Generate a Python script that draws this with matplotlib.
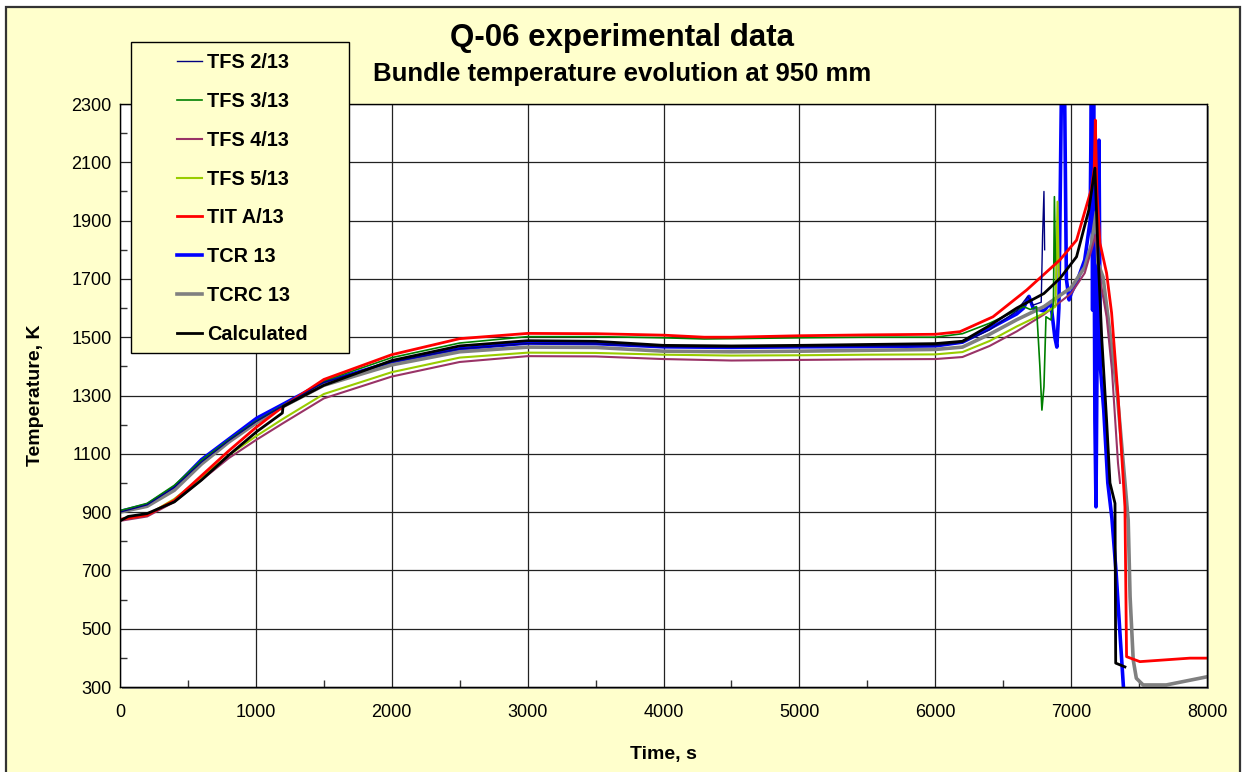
import matplotlib
matplotlib.use("Agg")
import matplotlib.pyplot as plt
from matplotlib.patches import Rectangle
from matplotlib.ticker import MultipleLocator

plt.rcParams['font.family'] = ['Liberation Sans', 'DejaVu Sans']

# TFS 2/13
t_tfs2 = [0, 200, 400, 600, 800, 1000, 1200, 1500, 2000, 2500, 3000, 3500, 4000, 4500,
          5000, 5500, 6000, 6200, 6400, 6600, 6680, 6720, 6780, 6790, 6800, 6805]
T_tfs2 = [900, 925, 985, 1072, 1145, 1210, 1265, 1345, 1415, 1460, 1478, 1477, 1467, 1465,
          1467, 1469, 1471, 1482, 1525, 1590, 1640, 1610, 1620, 1850, 2000, 1800]

# TFS 3/13
t_tfs3 = [0, 200, 400, 600, 800, 1000, 1200, 1500, 2000, 2500, 3000, 3500, 4000, 4300, 4500,
          5000, 5500, 6000, 6200, 6400, 6600, 6650, 6700, 6745, 6770, 6785, 6800, 6815,
          6852, 6870, 6877, 6885]
T_tfs3 = [905, 930, 992, 1078, 1148, 1212, 1266, 1350, 1430, 1480, 1502, 1502, 1498, 1494, 1495,
          1498, 1500, 1500, 1512, 1548, 1592, 1605, 1595, 1605, 1400, 1250, 1330, 1570,
          1559, 1620, 1982, 1750]

# TFS 4/13
t_tfs4 = [0, 200, 400, 600, 800, 1000, 1200, 1500, 2000, 2500, 3000, 3500, 4000, 4500,
          5000, 5500, 6000, 6200, 6400, 6600, 6800, 7000, 7100, 7150, 7180, 7220, 7261,
          7300, 7345, 7360]
T_tfs4 = [870, 885, 935, 1010, 1085, 1147, 1205, 1290, 1365, 1415, 1435, 1434, 1425, 1420,
          1422, 1424, 1425, 1432, 1470, 1520, 1578, 1650, 1720, 1800, 1850, 1680, 1570,
          1390, 1068, 1000]

# TFS 5/13
t_tfs5 = [0, 200, 400, 600, 800, 1000, 1200, 1500, 2000, 2500, 3000, 3500, 4000, 4500,
          5000, 5500, 6000, 6200, 6400, 6600, 6800, 6885, 6900, 6910]
T_tfs5 = [875, 890, 945, 1020, 1095, 1160, 1220, 1305, 1380, 1430, 1447, 1446, 1440, 1437,
          1438, 1440, 1441, 1449, 1487, 1537, 1582, 1605, 1965, 1700]

# TIT A/13
t_tit = [0, 200, 400, 600, 800, 1000, 1200, 1500, 2000, 2500, 3000, 3500, 4000, 4300, 4500,
         5000, 5500, 6000, 6182, 6425, 6673, 6917, 7040, 7100, 7150, 7170, 7178, 7190,
         7212, 7261, 7298, 7345, 7396, 7400, 7408, 7506, 7874, 8000]
T_tit = [875, 890, 940, 1025, 1110, 1190, 1262, 1355, 1440, 1495, 1513, 1512, 1507, 1500, 1500,
         1505, 1508, 1510, 1519, 1570, 1662, 1765, 1833, 1930, 2010, 2080, 2245, 2000,
         1823, 1720, 1583, 1300, 918, 747, 404, 387, 399, 399]

# TCR 13
t_tcr = [0, 200, 400, 600, 800, 1006, 1200, 1500, 2000, 2500, 3000, 3500, 4000, 4500,
         5000, 5500, 6000, 6200, 6400, 6600, 6650, 6690, 6720, 6800, 6850, 6880, 6895,
         6910, 6930, 6950, 6965, 6985, 7000, 7050, 7100, 7140, 7150, 7158, 7165, 7175,
         7183, 7195, 7205, 7215, 7240, 7270, 7300, 7330, 7360, 7385, 7390]
T_tcr = [902, 925, 985, 1080, 1150, 1222, 1270, 1345, 1415, 1460, 1480, 1478, 1467, 1465,
         1467, 1468, 1470, 1483, 1530, 1580, 1600, 1640, 1600, 1590, 1620, 1500, 1466,
         1600, 2400, 2450, 1700, 1628, 1650, 1700, 1765, 1900, 2400, 1593, 2350, 1216,
         918, 1700, 2176, 1400, 1250, 1000, 880, 700, 480, 300, 250]

# TCRC 13
t_tcrc = [0, 200, 400, 600, 800, 1000, 1200, 1500, 2000, 2500, 3000, 3500, 4000, 4500,
          5000, 5500, 6000, 6200, 6400, 6600, 6800, 7000, 7100, 7150, 7185, 7197, 7235,
          7337, 7420, 7434, 7457, 7480, 7530, 7700, 8000]
T_tcrc = [900, 920, 975, 1065, 1140, 1205, 1262, 1335, 1405, 1450, 1466, 1465, 1452, 1450,
          1452, 1455, 1458, 1466, 1510, 1560, 1605, 1670, 1740, 1820, 1930, 1755, 1706,
          1319, 873, 609, 393, 330, 307, 307, 335]

# Calculated
t_calc = [0, 60, 200, 400, 600, 800, 1006, 1195, 1200, 1500, 2000, 2500, 3000, 3500, 4000,
          4500, 5000, 5500, 6000, 6200, 6400, 6600, 6800, 6920, 7040, 7130, 7175, 7200,
          7225, 7261, 7286, 7323, 7328, 7396]
T_calc = [870, 885, 895, 935, 1010, 1095, 1176, 1240, 1262, 1335, 1420, 1470, 1488, 1486, 1472,
          1470, 1472, 1475, 1478, 1486, 1540, 1600, 1650, 1703, 1776, 1936, 2080, 1765,
          1500, 1216, 1000, 930, 382, 369]

x_ticks = [0, 1000, 2000, 3000, 4000, 5000, 6000, 7000, 8000]
y_ticks = [300, 500, 700, 900, 1100, 1300, 1500, 1700, 1900, 2100, 2300]

W, H = 1244, 772


def fig_rect(x0, y0, x1, y1):
    # pixels (origine en haut à gauche) -> coordonnées figure
    return (x0 / W, 1 - y1 / H), (x1 - x0) / W, (y1 - y0) / H


def main():
    fig = plt.figure(figsize=(W / 100, H / 100), dpi=100, facecolor='white')

    # fond jaune avec cadre
    xy, w, h = fig_rect(6, 7, 1240, 790)
    fig.patches.append(Rectangle(xy, w, h, transform=fig.transFigure, facecolor='#FFFFCC',
                                 edgecolor='#333333', linewidth=1.6, zorder=-10))
    # ombre de la zone de tracé
    xy, w, h = fig_rect(122, 106, 1209, 689)
    fig.patches.append(Rectangle(xy, w, h, transform=fig.transFigure, facecolor='#888888',
                                 edgecolor='none', zorder=-5))

    ax = fig.add_axes([120 / W, 85 / H, 1087 / W, 583 / H])
    ax.set_facecolor('white')

    series = [
        (t_tfs2, T_tfs2, 'TFS 2/13', '#000080', 1.0),
        (t_tfs3, T_tfs3, 'TFS 3/13', '#008000', 1.2),
        (t_tfs4, T_tfs4, 'TFS 4/13', '#993366', 1.5),
        (t_tfs5, T_tfs5, 'TFS 5/13', '#99CC00', 1.5),
        (t_tit, T_tit, 'TIT A/13', '#FF0000', 2.0),
        (t_tcr, T_tcr, 'TCR 13', '#0000FF', 2.6),
        (t_tcrc, T_tcrc, 'TCRC 13', '#808080', 2.6),
        (t_calc, T_calc, 'Calculated', '#000000', 2.0),
    ]
    zorders = [6, 5, 4, 4, 5, 3, 3, 7]
    lines = []
    for (t, T, label, color, lw), z in zip(series, zorders):
        ln, = ax.plot(t, T, color=color, linewidth=lw, label=label, zorder=z)
        lines.append(ln)

    ax.set_xlim(0, 8000)
    ax.set_ylim(300, 2300)
    ax.set_xticks(x_ticks)
    ax.set_yticks(y_ticks)
    ax.xaxis.set_minor_locator(MultipleLocator(500))
    ax.yaxis.set_minor_locator(MultipleLocator(100))
    ax.tick_params(which='major', length=0, labelsize=13, pad=12)
    ax.tick_params(axis='y', which='major', pad=6)
    ax.tick_params(which='minor', direction='in', length=5, width=1, color='#333333')
    ax.grid(True, which='major', color='#222222', linewidth=0.9)
    for sp in ax.spines.values():
        sp.set_color('black')
        sp.set_linewidth(1.0)
        sp.set_zorder(10)

    ax.set_xlabel('Time, s', fontsize=14, fontweight='bold', labelpad=18)
    ax.set_ylabel('Temperature, K', fontsize=14, fontweight='bold', labelpad=20)

    fig.text(0.5, 1 - 38 / H, 'Q-06 experimental data', ha='center', va='center',
             fontsize=22.5, fontweight='bold')
    fig.text(0.5, 1 - 74 / H, 'Bundle temperature evolution at 950 mm', ha='center',
             va='center', fontsize=18.5, fontweight='bold')

    # cadre de légende dessiné à part, la légende elle-même sans cadre
    xy, w, h = fig_rect(131, 42, 349, 353)
    fig.patches.append(Rectangle(xy, w, h, transform=fig.transFigure, facecolor='#FFFFCC',
                                 edgecolor='black', linewidth=1.0, zorder=15))
    leg = fig.legend(handles=lines, loc='upper left',
                     bbox_to_anchor=(177 / W, 1 - 53 / H), bbox_transform=fig.transFigure,
                     frameon=False, prop={'weight': 'bold', 'size': 14.3},
                     labelspacing=1.0, handlelength=1.26, handletextpad=0.25,
                     borderpad=0, borderaxespad=0)
    leg.set_zorder(20)

    fig.savefig('out.png', dpi=100, facecolor=fig.get_facecolor())


if __name__ == '__main__':
    main()
